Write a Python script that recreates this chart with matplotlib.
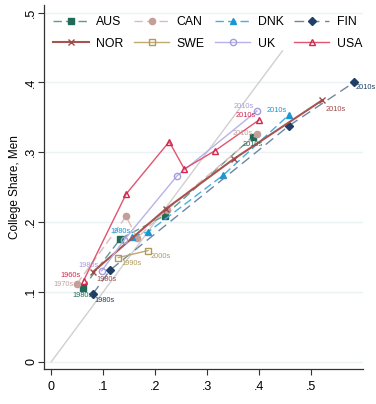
import matplotlib
matplotlib.use("Agg")
import matplotlib.pyplot as plt

plt.rcParams['font.family'] = ['Liberation Sans', 'DejaVu Sans']

# decade points per country: x = college share (women), y = college share (men)
aus_x = [0.060, 0.133, 0.218, 0.388]
aus_y = [0.105, 0.176, 0.209, 0.322]
can_x = [0.049, 0.144, 0.165, 0.222, 0.397]
can_y = [0.111, 0.208, 0.177, 0.217, 0.326]
dnk_x = [0.155, 0.187, 0.331, 0.457]
dnk_y = [0.179, 0.186, 0.267, 0.353]
fin_x = [0.080, 0.113, 0.458, 0.583]
fin_y = [0.097, 0.131, 0.338, 0.400]
nor_x = [0.081, 0.221, 0.351, 0.521]
nor_y = [0.129, 0.219, 0.290, 0.374]
swe_x = [0.129, 0.186]
swe_y = [0.149, 0.159]
uk_x = [0.097, 0.140, 0.242, 0.396]
uk_y = [0.130, 0.174, 0.266, 0.359]
usa_x = [0.062, 0.144, 0.227, 0.256, 0.315, 0.400]
usa_y = [0.116, 0.240, 0.315, 0.276, 0.302, 0.346]

first_dec = {'AUS': '1980s', 'CAN': '1970s', 'DNK': '1980s', 'FIN': '1980s',
             'NOR': '1980s', 'SWE': '1990s', 'UK': '1980s', 'USA': '1960s'}
last_dec = {'AUS': '2010s', 'CAN': '2010s', 'DNK': '2010s', 'FIN': '2010s',
            'NOR': '2010s', 'SWE': '2000s', 'UK': '2010s', 'USA': '2010s'}

series = [
    ('AUS', aus_x, aus_y, '#5f9a8c', '#1f6b58', 's', True, (6, 3), 1.0),
    ('CAN', can_x, can_y, '#dcbcb8', '#c49f9a', 'o', True, (6, 3), 1.0),
    ('DNK', dnk_x, dnk_y, '#45aee0', '#1797d4', '^', True, (6, 3), 1.0),
    ('FIN', fin_x, fin_y, '#6f86a3', '#1f3f66', 'D', True, (7, 4), 1.0),
    ('NOR', nor_x, nor_y, '#a65450', '#9c4a48', 'x', True, None, 1.5),
    ('SWE', swe_x, swe_y, '#c0aa72', '#b09a5c', 's', False, None, 1.0),
    ('UK', uk_x, uk_y, '#b7b2ea', '#a39ce0', 'o', False, None, 1.0),
    ('USA', usa_x, usa_y, '#df5570', '#d6264e', '^', False, None, 1.0),
]

# label placement: (dx, dy in points, ha, va)
first_pos = {'AUS': (0, -3, 'center', 'top'), 'CAN': (-2, 0, 'right', 'center'),
             'DNK': (-1, 1, 'right', 'bottom'), 'FIN': (1, -2, 'left', 'top'),
             'NOR': (2, -3, 'left', 'top'), 'SWE': (2, -2, 'left', 'top'),
             'UK': (-2, 1, 'right', 'bottom'), 'USA': (-2, 1, 'right', 'bottom')}
last_pos = {'AUS': (0, -3, 'center', 'top'), 'CAN': (-3, 0, 'right', 'center'),
            'DNK': (-1, 1, 'right', 'bottom'), 'FIN': (1, -1, 'left', 'top'),
            'NOR': (3, -4, 'left', 'top'), 'SWE': (2, -2, 'left', 'top'),
            'UK': (-2, 1, 'right', 'bottom'), 'USA': (-2, 1, 'right', 'bottom')}

fig = plt.figure(figsize=(3.76, 4.04), dpi=100)
ax = fig.add_axes([0.116, 0.086, 0.849, 0.902])

# 45 degree line
ax.plot([0, 0.445], [0, 0.445], color='#d0d0d0', lw=1.0, zorder=1)

handles = {}
for name, xs, ys, lc, mc, mk, filled, dash, lw in series:
    mfc = mc if filled else 'none'
    line, = ax.plot(xs, ys, color=lc, lw=lw, marker=mk, markersize=4.5,
                    markerfacecolor=mfc, markeredgecolor=mc, markeredgewidth=1.0,
                    label=name, zorder=3)
    if dash is not None:
        line.set_dashes(dash)
    handles[name] = line
    for i, lab, pos in [(0, first_dec[name], first_pos[name]),
                        (-1, last_dec[name], last_pos[name])]:
        dx, dy, ha, va = pos
        ax.annotate(lab, (xs[i], ys[i]), xytext=(dx, dy), textcoords='offset points',
                    ha=ha, va=va, fontsize=5.3, color=mc, zorder=4)

ax.set_xlim(-0.015, 0.6)
ax.set_ylim(-0.011, 0.511)
ticks = [0, 0.1, 0.2, 0.3, 0.4, 0.5]
tick_labels = ['0', '.1', '.2', '.3', '.4', '.5']
ax.set_xticks(ticks)
ax.set_xticklabels(tick_labels)
ax.set_yticks(ticks)
ax.set_yticklabels(tick_labels, rotation=90, va='center')
ax.tick_params(labelsize=9, length=4.5, width=0.8, color='#333333')
ax.tick_params(axis='x', pad=4)
ax.tick_params(axis='y', pad=0)
ax.grid(axis='y', color='#eaf2f4', lw=1.0, zorder=0)
ax.set_axisbelow(True)
for s in ['top', 'right']:
    ax.spines[s].set_visible(False)
for s in ['left', 'bottom']:
    ax.spines[s].set_color('#333333')
    ax.spines[s].set_linewidth(0.9)
ax.set_ylabel('College Share, Men', fontsize=8.5, labelpad=3)

# legend filled row by row: AUS CAN DNK FIN / NOR SWE UK USA
order = ['AUS', 'NOR', 'CAN', 'SWE', 'DNK', 'UK', 'FIN', 'USA']
ax.legend([handles[n] for n in order], order, ncol=4, loc='upper left',
          bbox_to_anchor=(0.0, 0.995), frameon=False,
          fontsize=8.8, handlelength=2.9, handletextpad=0.6, columnspacing=0.85,
          labelspacing=0.75, borderaxespad=0.5, borderpad=0.3)

fig.savefig('out.png', dpi=100)
